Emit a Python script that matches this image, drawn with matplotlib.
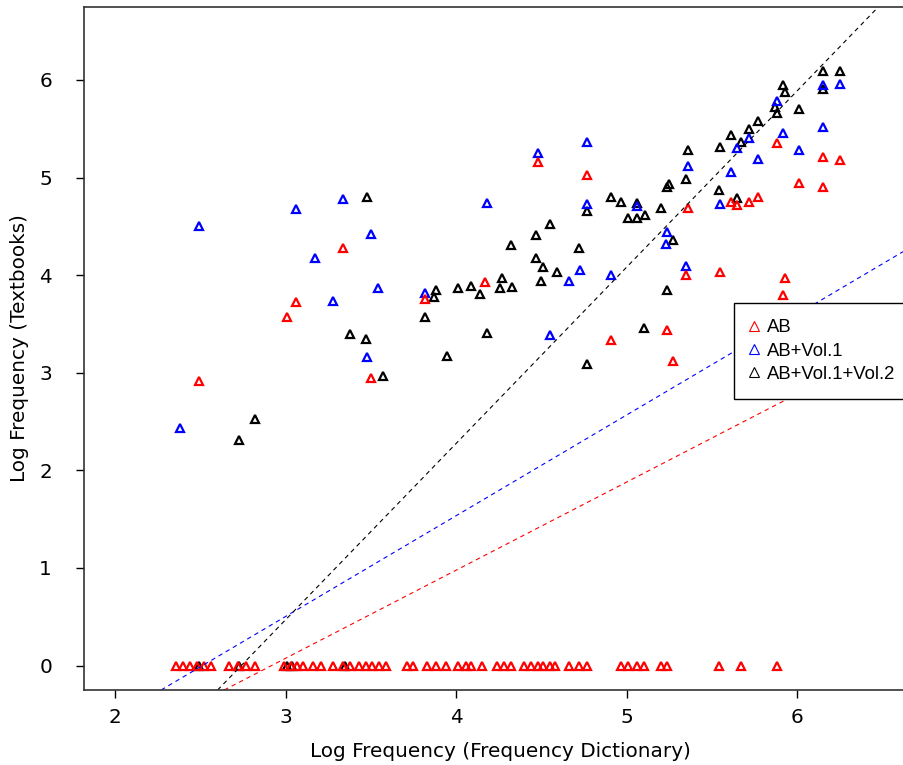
import matplotlib
matplotlib.use('Agg')
import matplotlib.pyplot as plt
from matplotlib.lines import Line2D

plt.rcParams['font.family'] = ['DejaVu Sans']

# ---- data: AB (red) ----
ab_x = [2.49, 3.01, 3.06, 3.34, 3.50, 3.82, 4.17, 4.48, 4.77, 4.91, 5.24, 5.27, 5.35,
        5.36, 5.55, 5.61, 5.65, 5.72, 5.77, 5.88, 5.92, 5.93, 6.01, 6.15, 6.15, 6.25]
ab_y = [2.91, 3.57, 3.72, 4.28, 2.95, 3.76, 3.93, 5.16, 5.03, 3.34, 3.44, 3.12, 4.00,
        4.69, 4.03, 4.75, 4.72, 4.75, 4.80, 5.35, 3.80, 3.97, 4.94, 5.21, 4.90, 5.18]
ab_zero_x = [2.36, 2.40, 2.44, 2.48, 2.52, 2.56, 2.67, 2.72, 2.77, 2.82, 2.99, 3.03, 3.07,
             3.10, 3.16, 3.21, 3.28, 3.34, 3.38, 3.43, 3.47, 3.51, 3.55, 3.59, 3.71, 3.75,
             3.83, 3.88, 3.94, 4.01, 4.06, 4.09, 4.15, 4.24, 4.28, 4.32, 4.40, 4.44, 4.48,
             4.51, 4.55, 4.58, 4.66, 4.72, 4.77, 4.97, 5.01, 5.06, 5.10, 5.20, 5.24, 5.54,
             5.67, 5.88]

# ---- data: AB+Vol.1 (blue) ----
v1_x = [2.38, 2.49, 3.06, 3.17, 3.28, 3.34, 3.48, 3.50, 3.54, 3.82, 4.18, 4.48, 4.55,
        4.66, 4.73, 4.77, 4.77, 4.91, 5.06, 5.24, 5.23, 5.35, 5.36, 5.55, 5.61, 5.65,
        5.72, 5.77, 5.88, 5.92, 6.01, 6.15, 6.15, 6.25]
v1_y = [2.43, 4.50, 4.68, 4.18, 3.73, 4.78, 3.16, 4.42, 3.87, 3.82, 4.74, 5.25, 3.39,
        3.94, 4.05, 5.36, 4.73, 4.00, 4.71, 4.44, 4.32, 4.09, 5.12, 4.73, 5.06, 5.30,
        5.40, 5.19, 5.78, 5.46, 5.28, 5.95, 5.52, 5.96]

# ---- data: AB+Vol.1+Vol.2 (black) ----
v2_x = [2.73, 2.82, 3.38, 3.47, 3.48, 3.57, 3.82, 3.87, 3.88, 3.95, 4.01, 4.09, 4.14,
        4.18, 4.26, 4.27, 4.33, 4.32, 4.47, 4.47, 4.50, 4.51, 4.55, 4.59, 4.72, 4.77,
        4.77, 4.91, 4.97, 5.01, 5.06, 5.06, 5.10, 5.11, 5.20, 5.24, 5.25, 5.27, 5.24,
        5.35, 5.36, 5.54, 5.55, 5.61, 5.65, 5.67, 5.72, 5.77, 5.87, 5.88, 5.92, 5.93,
        6.01, 6.15, 6.15, 6.25]
v2_y = [2.31, 2.53, 3.40, 3.35, 4.80, 2.97, 3.57, 3.78, 3.85, 3.17, 3.87, 3.89, 3.81,
        3.41, 3.87, 3.97, 3.88, 4.31, 4.41, 4.18, 3.94, 4.08, 4.52, 4.03, 4.28, 4.66,
        3.09, 4.80, 4.75, 4.59, 4.74, 4.59, 3.46, 4.62, 4.69, 4.90, 4.93, 4.36, 3.85,
        4.98, 5.28, 4.87, 5.31, 5.44, 4.79, 5.36, 5.50, 5.58, 5.72, 5.66, 5.95, 5.88,
        5.70, 6.09, 5.91, 6.09]
v2_zero_x = [2.49, 2.73, 3.01, 3.04, 3.35]

# ---- fitted lines (intercept, slope) ----
series_names = ['AB', 'AB+Vol.1', 'AB+Vol.1+Vol.2']
series_colors = ['red', 'blue', 'black']
line_intercepts = [-2.634, -2.594, -4.95]
line_slopes = [0.9025, 1.032, 1.806]

x_ticks = [2, 3, 4, 5, 6]
y_ticks = [0, 1, 2, 3, 4, 5, 6]

W, H = 904, 765
RIGHT = 916  # plot box continues slightly past the picture's right edge
fig = plt.figure(figsize=(W / 100, H / 100), dpi=100)
ax = fig.add_axes([84 / W, (H - 690) / H, (RIGHT - 84) / W, (690 - 7) / H])

mk = dict(marker='^', markersize=5.8, markerfacecolor='none', markeredgewidth=1.6,
          linestyle='none')

# black first, then blue, then red
ax.plot(v2_x, v2_y, markeredgecolor='black', **mk)
ax.plot(v2_zero_x, [0] * len(v2_zero_x), markeredgecolor='black', **mk)
ax.plot(v1_x, v1_y, markeredgecolor='blue', **mk)
ax.plot(ab_x, ab_y, markeredgecolor='red', **mk)
ax.plot(ab_zero_x, [0] * len(ab_zero_x), markeredgecolor='red', **mk)

for b, m, c in zip(line_intercepts, line_slopes, series_colors):
    ax.axline((0, b), slope=m, color=c, linewidth=0.8, dashes=(4, 3.5))

FS = 14.4
ax.set_xlim(1.818, 6.698)
ax.set_ylim(-0.251, 6.747)
ax.set_xticks(x_ticks)
ax.set_yticks(y_ticks)
ax.tick_params(direction='out', length=6, width=1, labelsize=FS)
ax.tick_params(axis='x', pad=7)
ax.tick_params(axis='y', pad=17)
for s in ['left', 'bottom', 'top', 'right']:
    ax.spines[s].set_color('#333333')
    ax.spines[s].set_linewidth(1.2)

ax.set_xlabel('Log Frequency (Frequency Dictionary)', fontsize=FS)
ax.set_ylabel('Log Frequency (Textbooks)', fontsize=FS)
ax.xaxis.set_label_coords(0.5, -0.0761)
ax.yaxis.set_label_coords(-0.0662, 0.5)

handles = [Line2D([], [], marker='^', linestyle='none', markersize=7.5,
                  markerfacecolor='none', markeredgecolor=c, markeredgewidth=0.8)
           for c in series_colors]
x_leg = (734 - 84) / (RIGHT - 84)
leg = ax.legend(handles, series_names, loc='upper left', bbox_to_anchor=(x_leg, 0.5666),
                borderaxespad=0, fancybox=False, framealpha=1, edgecolor='black',
                prop={'family': 'Liberation Sans', 'size': 13.3},
                labelspacing=0.34, handlelength=0.4, handletextpad=0.5,
                borderpad=0.88)
leg.get_frame().set_linewidth(1.0)

fig.savefig('out.png', dpi=100)
